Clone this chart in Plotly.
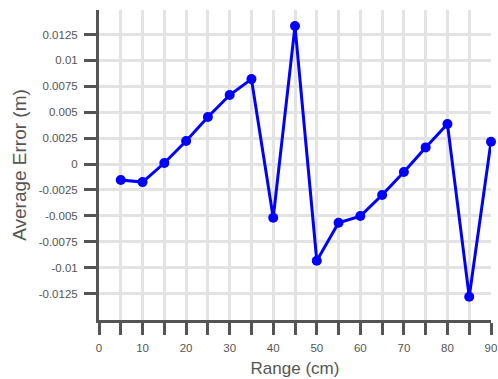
import plotly.graph_objects as go

range_cm = [5, 10, 15, 20, 25, 30, 35, 40, 45, 50, 55, 60, 65, 70, 75, 80, 85, 90]
avg_error = [-0.00154, -0.00174, 0.0001, 0.00222, 0.00454, 0.00666, 0.0082, -0.00518, 0.01332,
             -0.00933, -0.00567, -0.00502, -0.00299, -0.00077, 0.00161, 0.00386, -0.0128, 0.00215]

x_tickvals = [0, 10, 20, 30, 40, 50, 60, 70, 80, 90]
x_ticktext = ["0", "10", "20", "30", "40", "50", "60", "70", "80", "90"]
y_tickvals = [0.0125, 0.01, 0.0075, 0.005, 0.0025, 0, -0.0025, -0.005, -0.0075, -0.01, -0.0125]
y_ticktext = ["0.0125", "0.01", "0.0075", "0.005", "0.0025", "0", "-0.0025", "-0.005", "-0.0075", "-0.01", "-0.0125"]

axis_col = "#555555"
grid_col = "#e3e3e3"
font_fam = "Liberation Sans, Arial, sans-serif"

fig = go.Figure()
fig.add_trace(go.Scatter(
    x=range_cm, y=avg_error, mode="lines+markers",
    line=dict(color="#0000ff", width=3),
    marker=dict(color="#0000ff", size=10),
    cliponaxis=False,
))

fig.update_layout(
    width=498, height=379,
    margin=dict(l=99, r=7, t=10, b=59, autoexpand=False),
    plot_bgcolor="white", paper_bgcolor="white",
    showlegend=False,
    font=dict(family=font_fam, color=axis_col, size=11),
)
fig.update_xaxes(
    range=[0, 90], tickmode="array", tickvals=x_tickvals, ticktext=x_ticktext,
    ticks="outside", ticklen=12, tickwidth=3, tickcolor=axis_col,
    showline=True, linewidth=3, linecolor=axis_col,
    showgrid=True, gridcolor=grid_col, gridwidth=3, zeroline=False,
    minor=dict(dtick=5, tick0=0, ticks="outside", ticklen=12, tickwidth=3, tickcolor=axis_col,
               showgrid=True, gridcolor=grid_col, gridwidth=3),
    tickfont=dict(size=11.5, color=axis_col),
    ticklabelstandoff=3,
    title=dict(text="Range (cm)", font=dict(size=17, color=axis_col), standoff=10),
    automargin=False,
)
fig.update_yaxes(
    range=[-0.01505, 0.01487], tickmode="array", tickvals=y_tickvals, ticktext=y_ticktext,
    ticks="outside", ticklen=12, tickwidth=3, tickcolor=axis_col,
    showline=True, linewidth=3, linecolor=axis_col,
    showgrid=True, gridcolor=grid_col, gridwidth=3, zeroline=False,
    tickfont=dict(size=11.5, color=axis_col),
    ticklabelstandoff=4,
    title=dict(text="Average Error (m)", font=dict(size=19, color=axis_col), standoff=8),
    automargin=False,
)

fig.write_html(
    "out.html",
    config={"displayModeBar": False},
    post_script="document.body.style.margin='0';document.body.style.padding='0';",
)
